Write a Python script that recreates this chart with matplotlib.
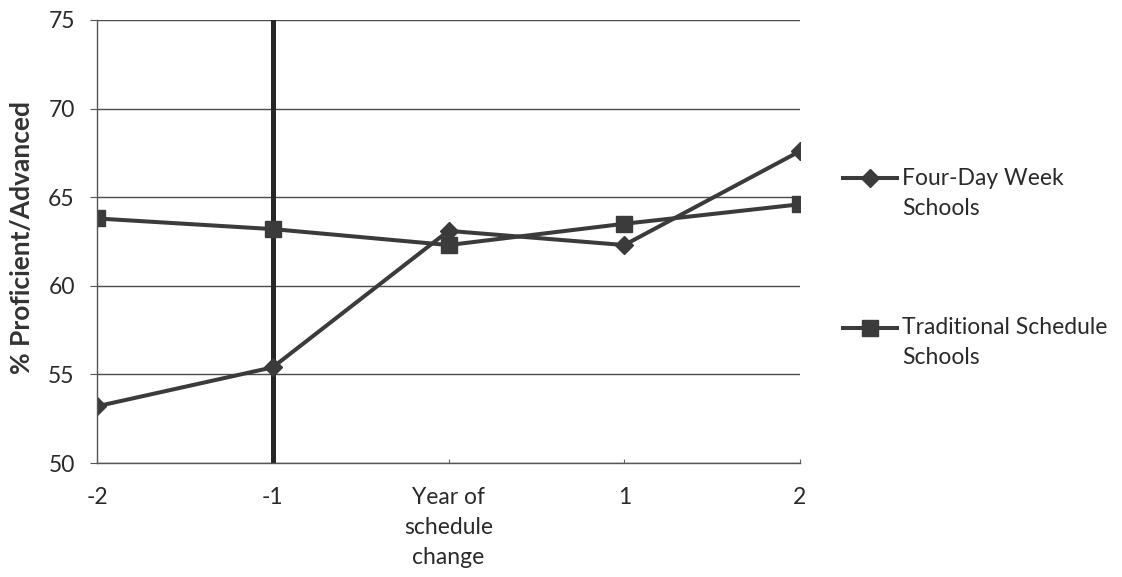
import matplotlib
matplotlib.use("Agg")
import matplotlib.pyplot as plt
from matplotlib.lines import Line2D

plt.rcParams["font.family"] = ["Lato", "DejaVu Sans"]

# data
x_labels = ["-2", "-1", "Year of\nschedule\nchange", "1", "2"]
four_day = [53.2, 55.4, 63.1, 62.3, 67.6]
traditional = [63.8, 63.2, 62.3, 63.5, 64.6]
y_ticks = [50, 55, 60, 65, 70, 75]
series_names = [["Four-Day Week", "Schools"], ["Traditional Schedule", "Schools"]]
series_markers = ["D", "s"]

line_col = "#3b3b3b"
text_col = "#2a2a2a"
pos = list(range(len(x_labels)))
W, H = 1122, 577

fig = plt.figure(figsize=(11.22, 5.77), dpi=100)
ax = fig.add_axes([97 / W, 1 - 463 / H, 703 / W, 443 / H])

ax.plot(pos, four_day, color=line_col, lw=2.9, marker="D", ms=9)
ax.plot(pos, traditional, color=line_col, lw=2.9, marker="s", ms=11.5)

# thick vertical line at year -1
ax.axvline(1, color="#262626", lw=3.6, zorder=1)

ax.set_xlim(0, 4)
ax.set_ylim(50, 75)
ax.set_yticks(y_ticks)
ax.set_xticks(pos)
ax.set_xticklabels(x_labels, fontsize=16.5, color=text_col, linespacing=1.55)
ax.tick_params(axis="y", labelsize=16.5, length=5, color="#555555",
               labelcolor=text_col, pad=11)
ax.tick_params(axis="x", direction="in", length=3, color="#666666", pad=17)
ax.grid(axis="y", color="#4a4a4a", lw=1.0)
ax.set_axisbelow(True)

for s in ["top", "right"]:
    ax.spines[s].set_visible(False)
for s in ["left", "bottom"]:
    ax.spines[s].set_color("#555555")
    ax.spines[s].set_linewidth(1.0)

ax.set_ylabel("% Proficient/Advanced", fontsize=19, fontweight="bold",
              color="#333333")
ax.yaxis.set_label_coords(-0.089, 0.51)

# legend, Excel style: handle on the first text line
for i, (names, mk) in enumerate(zip(series_names, series_markers)):
    y0 = [178, 328][i]
    fig.add_artist(Line2D([843 / W, 897 / W], [1 - y0 / H] * 2,
                          color=line_col, lw=2.9, transform=fig.transFigure))
    fig.add_artist(Line2D([870 / W], [1 - y0 / H], marker=mk,
                          ms=[9, 11.5][i], color=line_col,
                          transform=fig.transFigure))
    for j, line in enumerate(names):
        fig.text(902 / W, 1 - (y0 + 30 * j) / H, line, fontsize=16.5,
                 color=text_col, va="center", ha="left")

fig.savefig("out.png", dpi=100)
